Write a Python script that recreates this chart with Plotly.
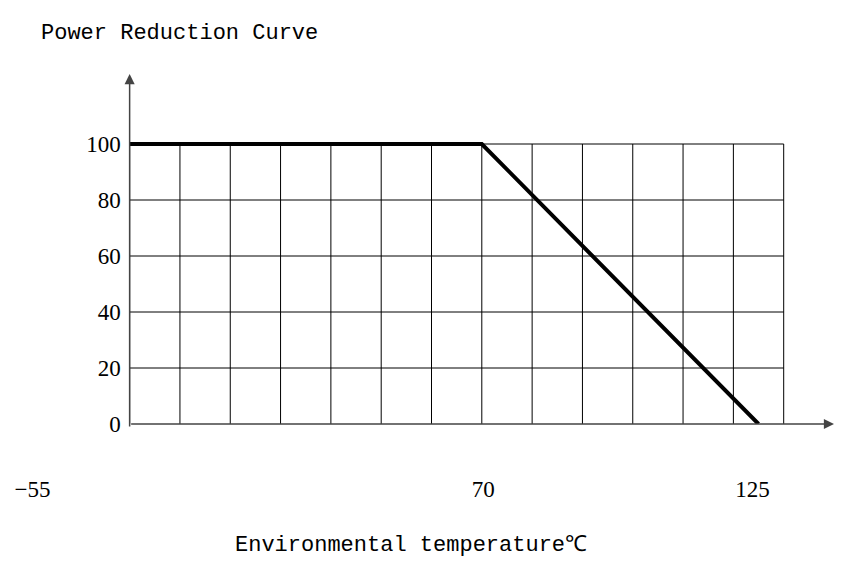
import plotly.graph_objects as go

# ---- data ----
temperature = [0, 70, 125]          # position on the drawn temperature scale
power_pct = [100, 100, 0]           # power (%)
grid_x = list(range(0, 131, 10))    # vertical grid positions
grid_y = list(range(20, 101, 20))   # horizontal grid positions
y_ticks = [0, 20, 40, 60, 80, 100]
x_tick_labels = ["−55", "70", "125"]
title_text = "Power Reduction Curve"
x_title_text = "Environmental temperature℃"

X_MIN, X_MAX = -20, 140
Y_MIN, Y_MAX = 0, 125
x_tick_pos = [-19.3, 70.3, 123.8]

# grid as line segments
gx, gy = [], []
for v in grid_x:
    gx += [v, v, None]
    gy += [0, 100, None]
for h in grid_y:
    gx += [0, 130, None]
    gy += [h, h, None]

fig = go.Figure()
fig.add_trace(go.Scatter(x=gx, y=gy, mode="lines",
                         line=dict(color="black", width=1),
                         hoverinfo="skip", showlegend=False))
fig.add_trace(go.Scatter(x=temperature, y=power_pct, mode="lines",
                         line=dict(color="black", width=4),
                         showlegend=False, cliponaxis=False))

serif = "Liberation Serif, Times New Roman, serif"
mono = "Liberation Mono, DejaVu Sans Mono, monospace"

fig.update_layout(
    width=851, height=566,
    margin=dict(l=29, r=17, t=74, b=142),
    plot_bgcolor="white", paper_bgcolor="white",
    showlegend=False,
    xaxis=dict(range=[X_MIN, X_MAX], showgrid=False, zeroline=False,
               showline=False, ticks="", tickvals=x_tick_pos,
               ticktext=x_tick_labels, ticklabelstandoff=49,
               tickfont=dict(family=serif, size=23, color="black")),
    yaxis=dict(range=[Y_MIN, Y_MAX], showgrid=False, zeroline=False,
               showline=False, ticks="", tickvals=y_ticks,
               anchor="free", position=(0 - X_MIN) / (X_MAX - X_MIN),
               ticklabelstandoff=9,
               tickfont=dict(family=serif, size=23, color="black")),
)

axis_col = "#444444"
# axis arrows
fig.add_annotation(x=X_MAX, y=0, ax=0, ay=0, xref="x", yref="y",
                   axref="x", ayref="y", text="", showarrow=True,
                   arrowhead=2, arrowsize=1.35, arrowwidth=1.5,
                   arrowcolor=axis_col)
fig.add_annotation(x=0, y=Y_MAX, ax=0, ay=-1.4, xref="x", yref="y",
                   axref="x", ayref="y", text="", showarrow=True,
                   arrowhead=2, arrowsize=1.35, arrowwidth=1.5,
                   arrowcolor=axis_col)

# titles
fig.add_annotation(text=title_text, xref="paper", yref="paper",
                   x=0.013, y=1.117, xanchor="left", yanchor="middle",
                   showarrow=False,
                   font=dict(family=mono, size=22, color="black"))
fig.add_annotation(text=x_title_text, xref="paper", yref="paper",
                   x=0.475, y=-0.346, xanchor="center", yanchor="middle",
                   showarrow=False,
                   font=dict(family=mono, size=22, color="black"))

fig.write_html("out.html")
